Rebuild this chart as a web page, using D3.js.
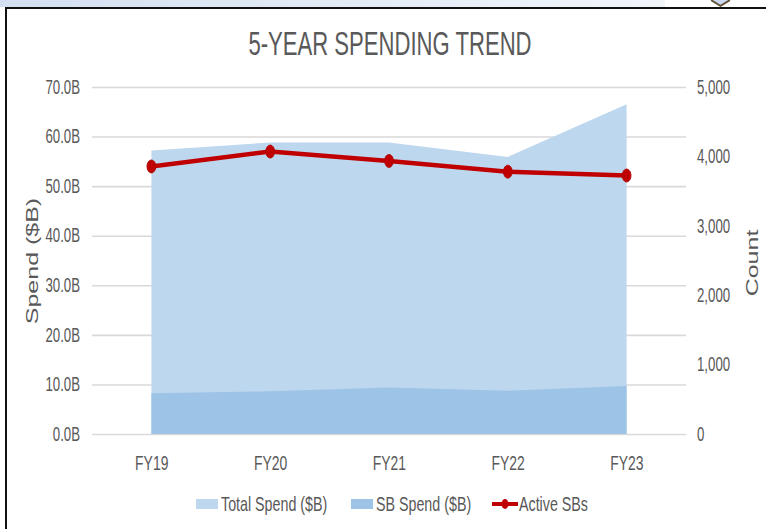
<!DOCTYPE html>
<html><head><meta charset="utf-8">
<script src="https://cdn.jsdelivr.net/npm/d3@7"></script>
<style>
html,body{margin:0;padding:0;background:#fff;overflow:hidden}
svg{display:block}
text{font-family:"Liberation Sans",Arial,sans-serif;fill:#595959}
</style></head><body>
<svg id="chart"></svg>
<script>
// ---- data ----
const categories = ["FY19", "FY20", "FY21", "FY22", "FY23"];
const totalSpend = [57.2, 58.8, 58.8, 55.9, 66.5];   // $B
const sbSpend    = [8.2, 8.6, 9.4, 8.7, 9.7];        // $B
const activeSBs  = [3855, 4070, 3935, 3780, 3725];   // count
const leftTicks  = [0, 10, 20, 30, 40, 50, 60, 70];
const rightTicks = [0, 1000, 2000, 3000, 4000, 5000];
const seriesNames = ["Total Spend ($B)", "SB Spend ($B)", "Active SBs"];
const chartTitle = "5-YEAR SPENDING TREND";
const leftTitle = "Spend ($B)";
const rightTitle = "Count";

// ---- layout (picture is horizontally condensed) ----
const W = 766, H = 529, SX = 0.68, VW = W / SX;
const vx = x => x / SX;
const colTotal = "#bdd7ee", colSB = "#9dc3e6", colLine = "#c00000", colGrid = "#d9d9d9";

const svg = d3.select("#chart")
  .attr("width", W).attr("height", H)
  .attr("viewBox", `0 0 ${VW} ${H}`)
  .attr("preserveAspectRatio", "none");

// page decoration: top strip, frame, corner icon
const defs = svg.append("defs");
const grad = defs.append("linearGradient").attr("id", "strip");
grad.append("stop").attr("offset", "0%").attr("stop-color", "#d3e0f1");
grad.append("stop").attr("offset", "100%").attr("stop-color", "#f2f6fb");
svg.append("rect").attr("x", 0).attr("y", 0).attr("width", vx(665)).attr("height", 7).attr("fill", "url(#strip)");
svg.append("path").attr("d", `M${vx(711)},0 L${vx(720.5)},6 L${vx(730)},0`)
  .attr("fill", "#c9d8ee").attr("stroke", "#5e5034").attr("stroke-width", 2);
svg.append("line").attr("x1", vx(5)).attr("x2", VW).attr("y1", 8).attr("y2", 8)
  .attr("stroke", "#111").attr("stroke-width", 2);
svg.append("line").attr("x1", vx(6)).attr("x2", vx(6)).attr("y1", 8).attr("y2", H)
  .attr("stroke", "#111").attr("stroke-width", 2 / SX);

// scales
const x0 = vx(92), x1 = vx(686), yTop = 87, yBot = 434;
const x = d3.scalePoint().domain(categories).range([x0, x1]).padding(0.5);
const y = d3.scaleLinear().domain([0, 70]).range([yBot, yTop]);
const y2 = d3.scaleLinear().domain([0, 5000]).range([yBot, yTop]);

// gridlines
const grid = svg.append("g").attr("transform", `translate(${x0},0)`)
  .call(d3.axisRight(y).tickValues(leftTicks).tickSize(x1 - x0).tickFormat(""));
grid.select(".domain").remove();
grid.selectAll("line").attr("stroke", colGrid).attr("stroke-width", 1.6);

// areas
const idx = categories.map((d, i) => i);
const areaTotal = d3.area().x(i => x(categories[i])).y0(y(0)).y1(i => y(totalSpend[i]));
const areaSB = d3.area().x(i => x(categories[i])).y0(y(0)).y1(i => y(sbSpend[i]));
svg.append("path").datum(idx).attr("d", areaTotal).attr("fill", colTotal);
svg.append("path").datum(idx).attr("d", areaSB).attr("fill", colSB);

// line
const line = d3.line().x(i => x(categories[i])).y(i => y2(activeSBs[i]));
svg.append("path").datum(idx).attr("d", line).attr("fill", "none")
  .attr("stroke", colLine).attr("stroke-width", 4.5).attr("stroke-linejoin", "round");
svg.selectAll("circle.pt").data(idx).join("circle").attr("class", "pt")
  .attr("cx", i => x(categories[i])).attr("cy", i => y2(activeSBs[i]))
  .attr("r", 6.5).attr("fill", colLine).attr("stroke", "#b00000").attr("stroke-width", 1);

// axes
const fs = "19.5px";
const ax = svg.append("g").attr("transform", `translate(${x0},0)`)
  .call(d3.axisLeft(y).tickValues(leftTicks).tickSize(0).tickPadding(vx(12)).tickFormat(d => d.toFixed(1) + "B"));
ax.select(".domain").remove();
ax.selectAll("text").attr("font-size", fs).attr("fill", "#595959").attr("font-family", "Liberation Sans, Arial, sans-serif");

const ar = svg.append("g").attr("transform", `translate(${x1},0)`)
  .call(d3.axisRight(y2).tickValues(rightTicks).tickSize(0).tickPadding(vx(11)).tickFormat(d3.format(",")));
ar.select(".domain").remove();
ar.selectAll("text").attr("font-size", fs).attr("fill", "#595959").attr("font-family", "Liberation Sans, Arial, sans-serif");

const ab = svg.append("g").attr("transform", `translate(0,${yBot})`)
  .call(d3.axisBottom(x).tickSize(0));
ab.select(".domain").remove();
ab.selectAll("text").attr("font-size", "20.5px").attr("fill", "#595959")
  .attr("font-family", "Liberation Sans, Arial, sans-serif").attr("y", 36).attr("dy", null);

// titles
svg.append("text").attr("x", vx(390)).attr("y", 55).attr("text-anchor", "middle")
  .attr("font-size", "32.5px").text(chartTitle);
svg.append("text").attr("transform", `translate(${vx(32)},261) rotate(-90)`)
  .attr("text-anchor", "middle").attr("dominant-baseline", "central")
  .attr("font-size", "25px").text(leftTitle);
svg.append("text").attr("transform", `translate(${vx(752)},263) rotate(-90)`)
  .attr("text-anchor", "middle").attr("dominant-baseline", "central")
  .attr("font-size", "25px").text(rightTitle);

// legend
const lg = svg.append("g").attr("font-size", "21px");
lg.append("rect").attr("x", vx(196)).attr("y", 499).attr("width", vx(218) - vx(196)).attr("height", 10).attr("fill", colTotal);
lg.append("text").attr("x", vx(221)).attr("y", 511).text(seriesNames[0]);
lg.append("rect").attr("x", vx(351)).attr("y", 499).attr("width", vx(373) - vx(351)).attr("height", 10).attr("fill", colSB);
lg.append("text").attr("x", vx(376)).attr("y", 511).text(seriesNames[1]);
lg.append("line").attr("x1", vx(492)).attr("x2", vx(518)).attr("y1", 504).attr("y2", 504)
  .attr("stroke", colLine).attr("stroke-width", 4);
lg.append("circle").attr("cx", vx(505)).attr("cy", 504).attr("r", 5).attr("fill", colLine);
lg.append("text").attr("x", vx(519)).attr("y", 511).text(seriesNames[2]);
</script>
</body></html>
